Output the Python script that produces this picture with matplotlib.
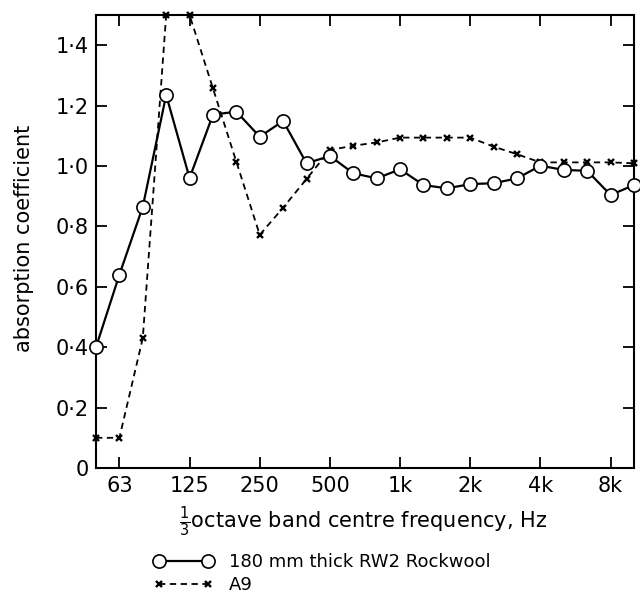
import matplotlib
matplotlib.use("Agg")
import matplotlib.pyplot as plt
from matplotlib.lines import Line2D

plt.rcParams['font.family'] = ['DejaVu Sans']
plt.rcParams['mathtext.fontset'] = 'dejavusans'

bands = ["50", "63", "80", "100", "125", "160", "200", "250", "315", "400", "500", "630",
         "800", "1k", "1.25k", "1.6k", "2k", "2.5k", "3.15k", "4k", "5k", "6.3k", "8k", "10k"]
rockwool = [0.40, 0.64, 0.865, 1.235, 0.96, 1.17, 1.18, 1.097, 1.149, 1.009, 1.033, 0.976,
            0.959, 0.989, 0.937, 0.926, 0.94, 0.943, 0.959, 1.001, 0.987, 0.984, 0.904, 0.937]
a9 = [0.10, 0.10, 0.43, 1.50, 1.50, 1.257, 1.014, 0.772, 0.862, 0.957, 1.053, 1.067,
      1.078, 1.094, 1.094, 1.094, 1.094, 1.064, 1.039, 1.012, 1.012, 1.012, 1.012, 1.009]
xtick_labels = ["63", "125", "250", "500", "1k", "2k", "4k", "8k"]
ytick_values = [0, 0.2, 0.4, 0.6, 0.8, 1.0, 1.2, 1.4]
ytick_labels = ["0", "0·2", "0·4", "0·6", "0·8", "1·0", "1·2", "1·4"]

W, H = 640, 599
fig = plt.figure(figsize=(6.4, 5.99), dpi=100)
ax = fig.add_axes([96/W, 1 - 468/H, (634-96)/W, (468-15)/H])

x = list(range(len(bands)))
ax.plot(x, a9, color='black', lw=1.3, ls=(0, (3.5, 2.5)), marker='x', ms=5, mew=1.7,
        clip_on=False, zorder=2)
ax.plot(x, rockwool, color='black', lw=1.6, marker='o', ms=9.5, mfc='white', mec='black',
        mew=1.2, clip_on=False, zorder=3)

ax.set_xlim(0, len(bands) - 1)
ax.set_ylim(0, 1.5)
ax.set_xticks([bands.index(b) for b in xtick_labels])
ax.set_xticklabels(xtick_labels)
ax.set_yticks(ytick_values)
ax.set_yticklabels(ytick_labels)
ax.tick_params(direction='in', length=8, width=1.3, labelsize=15, top=True, right=True)
ax.tick_params(axis='x', pad=6)
ax.tick_params(axis='y', pad=5)
for s in ax.spines.values():
    s.set_linewidth(1.5)

fig.text(24/W, 1 - 238/H, "absorption coefficient", rotation=90, ha='center', va='center',
         fontsize=15)
fig.text(363/W, 1 - 528/H, r"$\frac{1}{3}$octave band centre frequency, Hz", ha='center',
         va='baseline', fontsize=15)

h1 = Line2D([], [], color='black', lw=1.6, marker='o', ms=9.5, mfc='white', mec='black', mew=1.2)
h2 = Line2D([], [], color='black', lw=1.3, ls=(0, (3.5, 2.5)), marker='x', ms=5, mew=1.7)
fig.legend([h1, h2], ["180 mm thick RW2 Rockwool", "A9"], loc='upper left',
           bbox_to_anchor=(153.6/W, 1 - 553/H), frameon=False, numpoints=2,
           handlelength=3.3, handletextpad=0.87, labelspacing=0.3, fontsize=13,
           borderpad=0, borderaxespad=0)

fig.savefig("out.png", dpi=100)
